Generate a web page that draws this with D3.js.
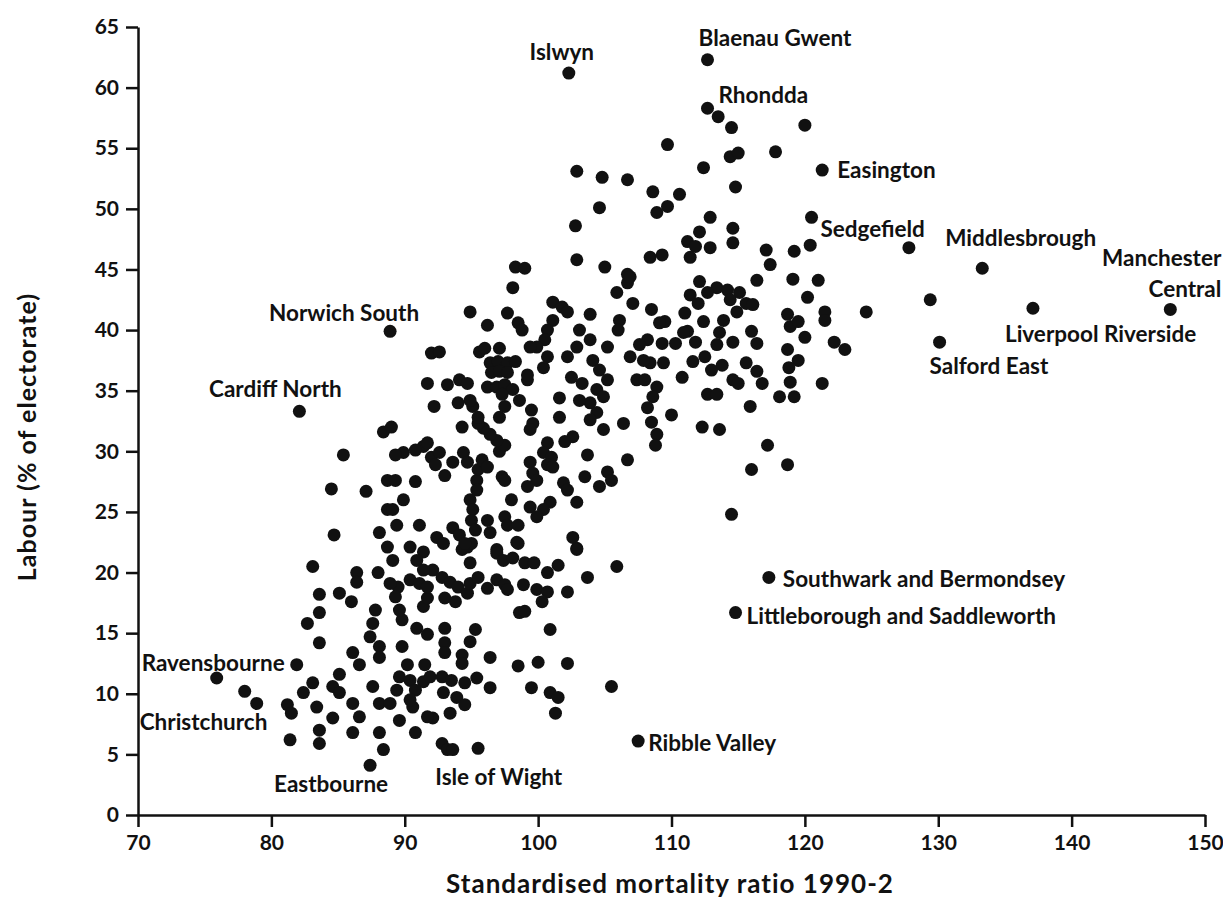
<!DOCTYPE html>
<html>
<head>
<meta charset="utf-8">
<script src="https://cdn.jsdelivr.net/npm/d3@7"></script>
<style>
  body { margin: 0; background: #fff; }
  text { font-family: "Lato", "Open Sans", sans-serif; fill: #111; }
</style>
</head>
<body>
<div id="chart"></div>
<script>
// axis ticks
const xTicks = [70, 80, 90, 100, 110, 120, 130, 140, 150];
const yTicks = [0, 5, 10, 15, 20, 25, 30, 35, 40, 45, 50, 55, 60, 65];

// [standardised mortality ratio, Labour % of electorate]
const seatsLowLeft = [
  [78.0,10.2],[78.9,9.2],[81.2,9.1],[81.5,8.4],[81.4,6.2],[83.6,5.9],[83.6,7.0],[83.1,20.5],
  [83.6,18.2],[83.6,16.7],[82.7,15.8],[83.6,14.2],[85.1,18.3],[86.0,17.6],[86.4,20.0],[86.4,19.2],
  [88.0,20.0],[87.8,16.9],[87.6,15.8],[87.4,14.7],[88.1,13.9],[88.1,13.0],[86.1,13.4],[86.6,12.4],
  [85.1,11.6],[83.1,10.9],[82.4,10.1],[83.4,8.9],[84.6,10.6],[85.1,10.1],[84.6,8.0],[86.1,9.2],
  [86.6,8.1],[86.1,6.8],[88.1,6.8],[88.1,9.2],[88.4,5.4],[87.6,10.6]
];

const seatsMidLeft = [
  [88.4,31.6],[89.0,32.0],[85.4,29.7],[84.5,26.9],[87.1,26.7],[84.7,23.1],[88.1,23.3],[88.7,27.6],
  [88.7,25.2],[88.7,22.1]
];

const seatsCentre = [
  [98.1,43.5],[94.9,41.5],[97.7,41.4],[98.5,40.6],[98.8,40.0],[96.2,40.4],[101.1,42.3],[101.8,41.9],
  [102.2,41.5],[101.1,40.8],[103.9,41.3],[105.9,43.1],[106.7,43.9],[107.1,42.2],[106.1,40.8],[106.0,40.0],
  [105.2,38.6],[106.9,37.8],[107.4,35.9],[103.1,40.0],[103.9,39.2],[102.9,38.6],[102.2,37.8],[104.1,37.5],
  [104.6,36.7],[102.5,36.1],[103.3,35.6],[105.2,35.9],[104.4,35.1],[104.9,34.5],[103.9,34.0],[103.1,34.2],
  [104.4,33.2],[104.9,31.8],[103.9,32.6],[106.4,32.3],[106.7,29.3],[105.2,28.3],[105.5,27.6],[104.6,27.1],
  [103.5,27.9],[103.7,29.7],[102.9,25.8],[102.6,31.2],[102.0,30.8],[101.6,32.8],[101.6,34.4],[100.7,40.0],
  [100.5,39.2],[99.9,38.6],[100.7,37.8],[100.4,36.9],[99.4,38.6],[99.2,35.9],[99.5,33.4],[99.6,32.3],
  [99.4,31.8],[100.7,30.7],[100.4,29.9],[101.0,29.5],[100.7,28.9],[101.1,28.7],[99.4,29.1],[99.6,28.2],
  [99.2,27.1],[99.9,27.6],[101.9,27.4],[102.2,26.8],[100.9,25.8],[100.4,25.2],[99.4,25.4],[99.9,24.6],
  [98.0,26.0],[97.5,24.6],[97.7,23.9],[98.5,23.9],[98.4,22.5],[96.9,21.9],[96.4,23.3],[96.2,24.3],
  [94.9,26.0],[95.1,25.2],[95.0,24.3],[95.3,23.5],[95.4,27.6],[95.4,26.8],[95.5,28.5],[95.8,29.3],
  [96.2,28.7],[97.3,27.9],[97.5,27.6],[97.1,30.0],[97.5,30.5],[96.9,30.9],[96.4,31.4],[95.9,31.9],
  [95.5,32.3],[95.5,32.8],[95.1,33.7],[94.9,34.2],[94.1,35.9],[94.7,35.6],[94.0,34.0],[93.2,35.5],
  [91.7,35.6],[92.2,33.7],[92.0,38.1],[92.6,38.2],[95.6,38.2],[96.0,38.5],[97.1,38.5],[96.4,37.3],
  [97.0,37.4],[97.7,37.3],[98.3,37.4],[96.5,36.5],[97.1,36.6],[97.7,36.5],[99.2,36.3],[96.2,35.3],
  [96.9,35.3],[97.5,35.5],[98.1,35.1],[98.6,34.2],[97.3,34.7],[97.5,33.7],[97.1,32.8],[94.3,32.0],
  [91.4,30.4],[91.7,30.7],[90.8,30.1],[89.9,29.9],[89.3,29.7],[92.0,29.5],[92.6,29.9],[92.3,28.9],
  [93.0,28.0],[93.6,29.1],[94.4,29.9],[94.7,29.1],[89.3,27.6],[90.8,27.5],[89.9,26.0],[89.1,25.2],
  [89.4,23.9],[91.1,23.9],[92.4,22.9],[93.6,23.7],[94.1,23.1],[94.7,22.1],[92.9,22.4],[90.4,22.1],
  [91.4,21.7],[95.0,22.4],[102.6,22.9],[102.9,22.0]
];

const seatsTop = [
  [102.9,53.1],[104.8,52.6],[106.7,52.4],[104.6,50.1],[102.8,48.6],[102.9,45.8],[105.0,45.2],[106.7,44.6],
  [106.9,44.4],[98.3,45.2],[99.0,45.1],[113.5,57.6],[114.5,56.7],[120.0,56.9],[109.7,55.3],[117.8,54.7],
  [114.4,54.3],[115.0,54.6],[112.4,53.4],[114.8,51.8],[108.6,51.4],[110.6,51.2],[109.7,50.2],[108.9,49.7],
  [112.9,49.3],[120.5,49.3],[114.6,48.4],[112.1,48.1],[111.2,47.3],[111.8,46.9],[112.9,46.8],[114.6,47.2],
  [120.4,47.0],[117.1,46.6],[119.2,46.5],[117.4,45.4],[108.4,46.0],[109.3,46.2],[111.4,46.0],[112.1,44.0],
  [116.4,44.1],[119.1,44.2],[121.0,44.1]
];

const seatsRight = [
  [120.2,42.7],[121.5,41.5],[121.5,40.8],[124.6,41.5],[122.2,39.0],[123.0,38.4],[121.3,35.6],[113.4,43.5],
  [114.2,43.3],[115.1,43.1],[114.4,42.5],[115.6,42.2],[116.1,42.1],[111.4,42.9],[112.0,42.2],[112.7,43.1],
  [114.9,41.5],[113.9,40.8],[112.4,40.7],[111.0,41.4],[108.5,41.7],[109.5,40.7],[109.1,40.6],[111.2,39.9],
  [111.8,39.0],[110.3,38.9],[113.6,39.8],[113.4,38.8],[114.6,39.0],[116.0,39.9],[116.4,38.9],[118.7,41.3],
  [118.9,40.3],[119.5,40.7],[120.0,39.4],[118.7,38.4],[119.5,37.5],[118.8,36.9],[118.9,35.7],[118.1,34.5],
  [119.2,34.5],[115.6,37.3],[116.4,36.6],[116.8,35.6],[114.6,35.9],[115.0,35.6],[115.9,33.7],[112.7,34.7],
  [113.4,34.7],[113.0,36.7],[113.8,37.1],[111.6,37.4],[112.5,37.8],[110.8,36.1],[108.2,39.2],[108.4,37.3],
  [109.4,37.3],[108.0,35.9],[108.9,35.3],[108.6,34.5],[108.2,33.6],[108.5,32.4],[110.0,33.0],[108.9,31.4],
  [108.8,30.5],[112.3,32.0],[113.6,31.8],[117.2,30.5],[118.7,28.9],[116.0,28.5],[114.5,24.8],[110.9,39.8],
  [107.6,38.8],[107.9,37.5],[109.3,38.9],[129.4,42.5]
];

const seatsBottom = [
  [105.9,20.5],[102.9,21.9],[103.7,19.6],[102.2,18.4],[100.9,15.3],[98.6,16.7],[99.0,16.8],[96.4,13.0],
  [98.5,12.3],[100.0,12.6],[102.2,12.5],[99.5,10.5],[100.9,10.1],[101.5,9.7],[101.3,8.4],[105.5,10.6],
  [96.4,10.5],[95.5,5.5],[92.8,5.9],[93.2,5.4],[93.0,15.4],[93.0,14.2],[93.0,13.4],[95.3,15.3],
  [94.9,14.3],[94.3,13.2],[94.3,12.5],[89.8,13.9],[91.5,12.4],[90.2,12.4],[89.6,11.4],[90.4,11.1],
  [91.4,11.0],[89.4,10.3],[90.8,10.3],[91.9,11.4],[92.8,11.4],[93.5,11.1],[94.5,10.9],[95.4,11.3],
  [92.9,10.1],[93.9,9.7],[94.5,9.1],[93.4,8.4],[92.1,8.0],[90.6,8.9],[90.4,9.5],[89.6,7.8],
  [90.8,6.8],[91.7,8.1],[88.9,9.2],[89.8,16.1],[90.9,15.4],[91.7,14.9],[91.4,17.2],[91.7,17.9],
  [93.8,17.6],[93.0,17.9],[89.6,16.9],[89.5,18.8],[90.4,19.4],[91.1,19.1],[91.7,18.8],[92.1,20.2],
  [92.8,19.6],[93.4,19.2],[94.0,18.8],[94.7,18.3],[94.9,19.1],[95.5,19.6],[96.2,18.7],[96.9,19.4],
  [97.5,19.0],[97.7,18.6],[96.9,21.6],[97.4,21.0],[98.1,21.2],[99.0,20.8],[99.7,20.8],[100.7,20.0],
  [101.5,20.6],[98.9,19.0],[99.9,18.6],[100.7,18.4],[100.3,17.6],[94.9,20.8],[94.3,21.9],[98.5,22.4],
  [94.5,22.4],[89.1,21.0],[88.9,19.1],[90.9,21.0],[91.4,20.2],[89.3,18.0]
];

// labelled constituencies
const namedSeats = [
  { name: "Islwyn", smr: 102.3, labour: 61.2 },
  { name: "Blaenau Gwent", smr: 112.7, labour: 62.3 },
  { name: "Rhondda", smr: 112.7, labour: 58.3 },
  { name: "Easington", smr: 121.3, labour: 53.2 },
  { name: "Sedgefield", smr: 127.8, labour: 46.8 },
  { name: "Middlesbrough", smr: 133.3, labour: 45.1 },
  { name: "Manchester Central", smr: 147.4, labour: 41.7 },
  { name: "Liverpool Riverside", smr: 137.1, labour: 41.8 },
  { name: "Salford East", smr: 130.1, labour: 39.0 },
  { name: "Norwich South", smr: 88.9, labour: 39.9 },
  { name: "Cardiff North", smr: 82.1, labour: 33.3 },
  { name: "Southwark and Bermondsey", smr: 117.3, labour: 19.6 },
  { name: "Littleborough and Saddleworth", smr: 114.8, labour: 16.7 },
  { name: "Ribble Valley", smr: 107.5, labour: 6.1 },
  { name: "Ravensbourne", smr: 81.9, labour: 12.4 },
  { name: "Christchurch", smr: 75.9, labour: 11.3 },
  { name: "Eastbourne", smr: 87.4, labour: 4.1 },
  { name: "Isle of Wight", smr: 93.6, labour: 5.4 }
];

const drawChart = (element) => {
  const width = 1223, height = 905;

  d3.select(element).selectAll("*").remove();

  const svg = d3.select(element)
    .append("svg")
    .attr("width", width)
    .attr("height", height);

  const x = d3.scaleLinear().domain([70, 150]).range([138, 1205]);
  const y = d3.scaleLinear().domain([0, 65]).range([815, 27]);

  // label placement relative to each dot (pixels)
  const labelPos = {
    "Islwyn": { dx: -7, dy: -13, anchor: "middle" },
    "Blaenau Gwent": { dx: -9, dy: -14, anchor: "start" },
    "Rhondda": { dx: 11, dy: -5, anchor: "start" },
    "Easington": { dx: 15, dy: 8, anchor: "start" },
    "Sedgefield": { dx: 16, dy: -11, anchor: "end" },
    "Middlesbrough": { dx: -37, dy: -22, anchor: "start" },
    "Manchester Central": { dx: 51, dy: -43, anchor: "end", lines: ["Manchester", "Central"] },
    "Liverpool Riverside": { dx: -28, dy: 34, anchor: "start" },
    "Salford East": { dx: -10, dy: 32, anchor: "start" },
    "Norwich South": { dx: -46, dy: -10, anchor: "middle" },
    "Cardiff North": { dx: -24, dy: -14, anchor: "middle" },
    "Southwark and Bermondsey": { dx: 14, dy: 10, anchor: "start" },
    "Littleborough and Saddleworth": { dx: 11, dy: 11, anchor: "start" },
    "Ribble Valley": { dx: 10, dy: 10, anchor: "start" },
    "Ravensbourne": { dx: -12, dy: 6, anchor: "end" },
    "Christchurch": { dx: -77, dy: 52, anchor: "start" },
    "Eastbourne": { dx: -39, dy: 27, anchor: "middle" },
    "Isle of Wight": { dx: 46, dy: 35, anchor: "middle" }
  };

  // axes
  const xAxis = svg.append("g")
    .attr("transform", `translate(0, ${y(0)})`)
    .call(d3.axisBottom(x).tickValues(xTicks).tickSize(12).tickSizeOuter(0).tickPadding(8));

  const yAxis = svg.append("g")
    .attr("transform", `translate(${x(70)}, 0)`)
    .call(d3.axisLeft(y).tickValues(yTicks).tickSize(12).tickSizeOuter(0).tickPadding(7));

  [xAxis, yAxis].forEach(g => {
    g.select(".domain").attr("stroke", "#111").attr("stroke-width", 2.5);
    g.selectAll(".tick line").attr("stroke", "#111").attr("stroke-width", 2.5);
    g.selectAll(".tick text")
      .style("font-family", "Lato, sans-serif")
      .style("font-size", "21px")
      .style("font-weight", "700")
      .attr("fill", "#111");
  });

  // axis titles
  svg.append("text")
    .attr("x", 670)
    .attr("y", 893)
    .attr("text-anchor", "middle")
    .style("font-size", "26px")
    .style("letter-spacing", "1px")
    .style("font-weight", "700")
    .text("Standardised mortality ratio 1990-2");

  svg.append("text")
    .attr("transform", `translate(36, 437) rotate(-90)`)
    .attr("text-anchor", "middle")
    .style("font-size", "25px")
    .style("letter-spacing", "1px")
    .style("font-weight", "700")
    .text("Labour (% of electorate)");

  // dots
  const allSeats = [].concat(seatsLowLeft, seatsMidLeft, seatsCentre, seatsTop, seatsRight, seatsBottom,
    namedSeats.map(d => [d.smr, d.labour]));

  svg.append("g")
    .selectAll("circle")
    .data(allSeats)
    .enter()
    .append("circle")
    .attr("cx", d => x(d[0]))
    .attr("cy", d => y(d[1]))
    .attr("r", 6.5)
    .attr("fill", "#111");

  // labels
  const labels = svg.append("g")
    .selectAll("text")
    .data(namedSeats)
    .enter()
    .append("text")
    .attr("x", d => x(d.smr) + labelPos[d.name].dx)
    .attr("y", d => y(d.labour) + labelPos[d.name].dy)
    .attr("text-anchor", d => labelPos[d.name].anchor)
    .style("font-size", "22.5px")
    .style("font-weight", "700");

  labels.each(function (d) {
    const lines = labelPos[d.name].lines || [d.name];
    const t = d3.select(this);
    const x0 = x(d.smr) + labelPos[d.name].dx;
    lines.forEach((line, i) => {
      t.append("tspan").attr("x", x0).attr("dy", i === 0 ? 0 : 31).text(line);
    });
  });
};

drawChart(document.getElementById("chart"));
</script>
</body>
</html>
